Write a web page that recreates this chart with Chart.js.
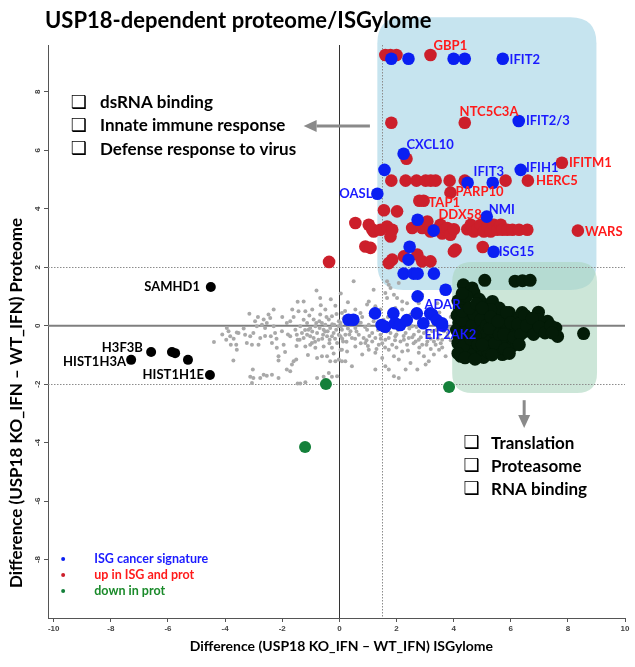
<!DOCTYPE html>
<html>
<head>
<meta charset="utf-8">
<script src="https://cdn.jsdelivr.net/npm/chart.js@4.4.0/dist/chart.umd.min.js"></script>
<style>
  html, body { margin: 0; padding: 0; background: #fff; }
  #wrap { width: 635px; height: 667px; }
</style>
</head>
<body>
<div id="wrap"><canvas id="chart" width="635" height="667"></canvas></div>
<script>
// ---- data (x = ISGylome difference, y = proteome difference) ----
const xTicks = [-10, -8, -6, -4, -2, 0, 2, 4, 6, 8, 10];
const yTicks = [-8, -6, -4, -2, 0, 2, 4, 6, 8];

const grayPoints = [
  [-4.39,-0.56],[-3.94,-0.08],[-3.88,-0.19],[-3.96,-0.48],[-3.82,-0.36],[-3.80,-0.65],[-3.59,-0.23],
  [-3.53,-0.25],[-3.61,-0.65],[-3.59,-0.82],[-3.71,-1.19],[-3.30,-0.31],[-3.24,-0.59],[-3.15,0.41],
  [-3.12,-0.36],[-3.06,-0.65],[-3.01,-0.25],[-2.95,0.15],[-2.89,-0.02],[-2.83,-0.65],[-2.77,-0.42],
  [-2.71,0.03],[-2.65,0.21],[-2.60,-0.08],[-2.54,0.09],[-2.48,0.38],[-2.42,0.26],[-2.40,-0.36],
  [-2.36,-0.59],[-2.30,-0.02],[-2.25,-0.25],[-2.19,-0.76],[-2.13,-1.05],[-2.13,-1.19],[-2.01,-0.19],
  [-1.95,-0.65],[-1.84,0.09],[-1.72,0.15],[-1.72,-0.36],[-1.66,-1.33],[-1.60,-1.22],[-1.51,-1.16],
  [-1.46,0.82],[-1.43,0.49],[-1.37,-0.02],[-1.31,-0.25],[-1.25,-0.42],[-1.19,-0.71],[-1.13,0.09],
  [-1.08,-0.14],[-1.02,-0.36],[-0.96,-0.59],[-0.90,0.21],[-0.84,-0.02],[-0.78,-0.25],[-0.73,-0.48],
  [-0.67,0.38],[-0.61,0.09],[-0.55,-0.14],[-0.49,0.55],[-0.43,-0.36],[-0.37,0.21],[-0.32,-0.08],
  [-0.26,0.32],[-0.20,-0.25],[-0.14,0.68],[-0.08,-0.59],[-0.02,0.15],[0.04,-0.36],[0.09,0.43],
  [-0.78,-1.11],[-0.61,-1.05],[-0.43,-1.05],[-0.32,-1.22],[-0.14,-1.22],[-0.02,-1.16],[0.09,-1.22],
  [-3.03,-1.50],[-3.12,-1.75],[-3.06,-1.96],[-3.01,-1.79],[-2.77,-1.79],[-2.65,-1.68],[-2.54,-1.71],
  [-2.36,-1.68],[-2.13,-1.79],[-1.84,-1.50],[-1.72,-1.56],[-1.46,-1.98],[-1.37,-1.98],[-1.19,-1.94],
  [-0.78,-1.79],[-0.55,-1.75],[-0.37,-1.62],[-0.26,-1.75],[-0.08,-1.73],[-1.25,0.83],[-0.67,0.95],
  [-1.19,0.49],[-1.54,-0.14],[-1.49,-0.31],[-1.39,-0.48],[-1.13,-0.31],[-1.02,-0.08],[-0.90,-0.42],
  [-0.81,0.09],[-0.69,-0.08],[-0.57,-0.31],[-0.49,0.03],[-0.41,-0.19],[-0.34,-0.48],[-0.26,-0.36],
  [-0.18,0.03],[-0.11,-0.14],[-0.02,-0.31],[0.06,-0.02],[0.13,-0.54],[-1.46,-0.48],[-1.02,-0.65],
  [-0.55,-0.71],[-0.26,-0.76],[0.04,-0.82],[-0.84,-0.76],
  [0.50,1.52],[1.20,1.23],[1.67,1.52],[1.73,1.40],[1.79,1.29],[1.91,1.06],[2.02,0.95],[1.67,0.95],
  [2.20,0.83],[2.37,0.77],[1.03,0.83],[0.97,0.72],[0.56,0.55],[0.74,0.43],[1.26,0.66],[1.44,0.55],
  [1.96,0.60],[2.20,0.55],[2.49,0.38],[1.61,1.12],[2.08,1.46],[2.90,1.06],[2.78,0.77],[3.43,0.77],
  [3.60,1.12],[0.09,-0.82],[0.27,-0.88],[0.56,-0.71],[0.80,-0.99],[1.03,-0.82],[1.26,-0.93],
  [1.50,-1.11],[1.73,-0.82],[1.91,-1.05],[2.08,-1.16],[2.20,-0.88],[2.32,-1.50],[2.49,-1.28],
  [2.78,-0.93],[2.96,-1.05],[3.13,-1.22],[3.31,-0.99],[3.49,-0.82],[3.72,-1.05],[1.61,-1.39],
  [1.73,-1.50],[1.91,-1.73],[2.08,-1.79],[1.26,-1.50],[0.44,-1.39],[0.21,-1.22],[3.02,-1.33],
  [2.73,-1.50],[-0.02,-0.02],[0.09,-0.14],[0.21,-0.31],[0.39,-0.19],[0.56,-0.08],[0.68,-0.31],
  [0.85,-0.42],[0.97,-0.14],[1.15,-0.25],[1.26,-0.42],[1.44,-0.31],[1.61,-0.48],[1.79,-0.25],
  [1.96,-0.36],[2.14,-0.54],[2.32,-0.25],[2.43,-0.42],[2.61,-0.31],[2.78,-0.48],[2.96,-0.25],
  [3.13,-0.36],[3.31,-0.54],[3.49,-0.31],[3.60,-0.48],[3.78,-0.36],[0.91,-0.59],[1.38,-0.65],
  [1.85,-0.65],[2.37,-0.65],[2.90,-0.65],[3.37,-0.65],[2.67,-0.54],[3.08,-0.54],[0.04,0.09],
  [0.33,0.03],[0.68,0.09],[1.03,0.03],[1.38,0.03],[1.73,-0.02],[2.08,0.03],[2.55,-0.02],[3.02,-0.02],
  [3.49,-0.02],[3.84,-0.08],[0.44,-0.42],[1.15,-0.54],[1.73,-0.42],[2.26,-0.48],[2.78,-0.19],
  [3.25,-0.19],[3.66,-0.19],
  [0.15,0.25],[0.3,-0.1],[0.45,0.15],[0.6,-0.2],[0.75,0.1],[0.9,-0.05],[1.05,-0.35],[1.2,0.15],
  [1.35,-0.15],[1.5,-0.6],[1.55,0.2],[1.65,-0.2],[1.85,0.1],[1.95,-0.5],[2.05,-0.15],[2.2,0.1],
  [2.25,-0.35],[2.45,-0.1],[2.5,0.15],[2.6,-0.6],[2.7,-0.05],[2.85,-0.4],[2.95,0.2],[3.05,-0.2],
  [3.2,-0.45],[3.3,0.1],[3.4,-0.15],[3.55,-0.6],[3.7,0.05],[3.8,-0.25],[3.9,-0.5],[0.25,-0.55],
  [0.55,-0.45],[0.75,-0.6],[1.0,-0.7],[1.3,-0.8],[1.6,-0.75],[2.0,-0.75],[2.4,-0.85],[2.8,-0.75],
  [3.2,-0.8],[3.6,-0.75],[0.2,0.5],[0.8,0.3],[1.1,0.35],[1.7,0.3],[2.3,0.3],[2.7,0.25],[3.1,0.3],
  [3.5,0.45],[3.9,0.3],[0.35,-0.3],[0.95,-0.5],[1.45,-0.45],[2.0,-0.3],[2.55,-0.4],[3.05,-0.65],
  [3.45,-0.45],[3.95,-0.1],[0.1,-0.45],[0.6,0.3],
  [-1.8,-0.3],[-1.6,0.3],[-1.5,-0.7],[-1.25,0.2],[-1.2,-0.15],[-1.05,0.35],[-0.95,-0.2],[-0.85,-0.55],
  [-0.7,0.15],[-0.6,-0.45],[-0.5,-0.2],[-0.45,0.3],[-0.35,-0.6],[-0.25,0.05],[-0.15,-0.45],[-0.1,0.4],
  [-2.0,0.3],[-2.2,-0.45],[-2.6,-0.35],[-2.85,0.3],[-3.35,-0.1],[-3.7,-0.45],[-4.1,-0.3],[-1.9,-0.9],
  [-1.1,-1.0],[-0.2,-0.95],[-0.65,0.7],[-0.95,0.55],[-1.65,0.55],[-2.3,0.55],[-0.3,0.9],[0.05,1.1],
  [0.3,0.8],[-0.8,1.2]
];

const redPoints = [
  [1.61,9.26],[1.79,9.26],[2.0,9.26],[3.19,9.26],
  [1.82,6.94],[4.39,6.94],
  [2.35,5.71],[7.79,5.57],
  [1.82,4.96],[2.32,4.96],[2.7,4.96],[3.02,4.96],[3.2,4.96],[3.37,4.96],[3.86,4.96],[4.39,4.96],
  [5.82,4.96],[6.6,4.96],
  [3.89,4.55],[2.8,4.27],[2.95,4.27],[1.56,3.95],[2.02,3.91],
  [0.56,3.51],[1.03,3.45],[1.2,3.22],[1.15,3.3],[1.44,3.28],[1.67,3.39],[1.85,3.28],[1.79,3.05],
  [2.55,3.34],[2.9,3.34],[3.08,3.56],[3.19,3.22],[3.43,3.3],[3.54,3.45],[3.6,3.15],[3.72,3.3],
  [3.78,3.34],[3.89,3.11],[4.01,3.3],[4.48,3.3],[4.6,3.45],[4.71,3.22],[4.83,3.3],[4.95,3.45],
  [5.06,3.22],[5.18,3.4],[5.3,3.22],[5.41,3.45],[5.53,3.28],[5.65,3.45],[5.71,3.28],[5.88,3.28],
  [6.06,3.28],[6.29,3.28],[6.58,3.28],
  [8.35,3.25],
  [0.91,2.71],[1.09,2.66],[4.07,2.6],[5.02,2.69],
  [1.85,2.26],[1.73,2.14],[2.26,2.37],[2.73,2.43],[2.9,2.2],[3.19,2.2],[4.01,2.54],
  [-0.36,2.18]
];

const bluePoints = [
  [1.82,9.13],[2.42,9.13],[4.0,9.13],[4.39,9.13],[5.72,9.13],
  [6.28,7.0],
  [2.25,5.88],[1.58,5.33],[6.35,5.33],[4.49,4.89],[5.37,4.89],
  [1.33,4.51],[2.74,3.62],[5.16,3.73],[3.3,3.25],
  [2.46,2.7],[2.42,2.26],[5.4,2.53],
  [2.25,1.78],[2.6,1.78],[2.74,1.78],[3.31,1.78],
  [3.72,1.23],[2.74,1.0],
  [1.25,0.42],[1.89,0.42],[2.71,0.42],[3.18,0.42],[3.25,0.38],
  [0.32,0.2],[0.49,0.2],
  [1.48,0.02],[1.6,-0.04],[1.95,0.08],[2.13,0.02],[2.36,0.19],[2.94,0.08],[3.41,0.19],[3.59,0.08],
  [3.6,0.0]
];

const greenPoints = [[-0.47,-2.0],[-1.2,-4.15],[3.84,-2.1]];

const histonePoints = [
  [-7.29,-1.17],[-6.59,-0.9],[-5.86,-0.9],[-5.75,-0.94],[-5.3,-1.17],[-4.53,-1.69],[-4.5,1.32]
];

const clusterPoints = [
  [4.34,1.4],[4.65,1.29],[4.71,1.14],[5.09,1.55],[6.15,1.52],[6.41,1.54],[6.68,1.55],[5.03,0.75],
  [5.36,0.83],[6.97,0.46],[8.55,-0.27],[7.58,-0.08],[7.64,-0.37],[7.29,0.15],
  [4.15,0.85],[4.2,0.6],[4.12,0.35],[4.18,0.1],[4.1,-0.15],[4.2,-0.4],[4.15,-0.6],[4.25,-0.8],
  [4.4,0.7],[4.5,0.45],[4.6,0.2],[4.45,0.0],[4.55,-0.25],[4.4,-0.5],[4.6,-0.7],[4.48,-0.82],
  [4.8,0.55],[4.75,0.3],[4.85,0.05],[4.7,-0.15],[4.9,-0.35],[4.8,-0.55],[4.95,-0.99],[5.05,-1.09],
  [4.9,-0.8],[5.1,0.4],[5.2,0.15],[5.05,-0.05],[5.25,-0.3],[5.15,-0.5],[5.3,-0.7],
  [5.5,0.35],[5.45,0.1],[5.6,-0.1],[5.5,-0.4],[5.65,-0.6],[5.71,-0.99],[5.88,-0.58],
  [5.8,0.25],[5.9,0.0],[6.0,-0.2],[5.95,0.45],[6.1,0.1],[6.2,-0.15],[6.3,0.3],[6.4,0.05],[6.5,-0.2],
  [6.6,0.2],[6.7,-0.05],[6.85,0.1],[6.9,-0.2],[7.1,-0.1],[7.0,0.2],[6.2,-0.45],[6.05,-0.7],
  [4.3,0.2],[4.35,-0.25],[4.65,0.0],[4.7,0.4],[4.95,0.2],[5.0,-0.2],[5.35,0.0],[5.4,-0.2],[5.7,0.15],
  [4.25,-1.05],[4.6,-1.0],[5.2,-0.9],[5.5,-0.8],[4.45,1.0],[4.3,1.1],[4.9,0.9],[5.6,0.6],[6.4,0.45],
  [5.3,0.55],
  [4.3,0.5],[4.35,-0.7],[4.55,0.6],[4.6,-0.45],[4.75,-0.35],[4.8,0.75],[4.85,-0.65],[5.0,0.6],
  [5.0,-0.65],[5.15,0.0],[5.25,-0.1],[5.3,0.3],[5.45,-0.6],[5.55,0.15],[5.6,-0.3],[5.75,-0.3],
  [5.8,-0.8],[5.85,0.45],[6.0,0.1],[6.1,-0.4],[6.25,0.05],[6.35,-0.3],[6.5,0.35],[6.55,0.0],
  [6.75,0.25],[6.8,-0.3],[7.0,-0.05],[7.2,-0.25],[7.4,0.0],[7.45,-0.25],[4.15,-0.95],[4.4,-1.1],
  [4.75,-1.15],[5.35,-1.0],[5.95,-0.95],[6.3,-0.65]
];

// gene labels: text, anchor x, anchor y, group, alignment
const geneLabels = [
  ['GBP1', 3.3, 9.57, 'red', 'left'],
  ['IFIT2', 5.96, 9.09, 'blue', 'left'],
  ['NTC5C3A', 4.21, 7.32, 'red', 'left'],
  ['IFIT2/3', 6.53, 7.0, 'blue', 'left'],
  ['CXCL10', 2.35, 6.19, 'blue', 'left'],
  ['IFIT3', 4.7, 5.26, 'blue', 'left'],
  ['IFIH1', 6.53, 5.4, 'blue', 'left'],
  ['IFITM1', 8.04, 5.57, 'red', 'left'],
  ['HERC5', 6.88, 4.96, 'red', 'left'],
  ['PARP10', 4.07, 4.58, 'red', 'left'],
  ['OASL', 1.16, 4.51, 'blue', 'right'],
  ['TAP1', 3.12, 4.21, 'red', 'left'],
  ['DDX58', 3.47, 3.79, 'red', 'left'],
  ['NMI', 5.23, 3.97, 'blue', 'left'],
  ['WARS', 8.6, 3.21, 'red', 'left'],
  ['ISG15', 5.58, 2.53, 'blue', 'left'],
  ['ADAR', 2.98, 0.72, 'blue', 'left'],
  ['EIF2AK2', 2.98, -0.31, 'blue', 'left'],
  ['SAMHD1', -4.88, 1.33, 'black', 'right'],
  ['H3F3B', -6.88, -0.75, 'black', 'right'],
  ['HIST1H3A', -7.47, -1.23, 'black', 'right'],
  ['HIST1H1E', -4.74, -1.68, 'black', 'right']
];

const upTerms = ['dsRNA binding', 'Innate immune response', 'Defense response to virus'];
const downTerms = ['Translation', 'Proteasome', 'RNA binding'];
const legendItems = [
  ['ISG cancer signature', 'blue'],
  ['up in ISG and prot', 'red'],
  ['down in prot', 'green']
];

// ---- styling ----
const colors = {
  red: '#cc1f2b', blue: '#0a1ff2', green: '#14803a', black: '#000000',
  cluster: '#041c08', gray: '#a9a9a9'
};
const textColors = { red: '#ff1a1a', blue: '#1a1aff', black: '#000000', green: '#1a8a2a' };
const FONT = 'Lato, "Open Sans", sans-serif';

const blueBox = { x0: 1.33, x1: 9.0, y0: 1.22, y1: 10.55 };
const greenBox = { x0: 3.95, x1: 9.02, y0: -2.3, y1: 2.18 };

function toXY(arr) {
  return arr.map(p => ({ x: p[0], y: p[1] }));
}

function roundRect(ctx, x, y, w, h, r) {
  ctx.beginPath();
  ctx.moveTo(x + r, y);
  ctx.lineTo(x + w - r, y);
  ctx.quadraticCurveTo(x + w, y, x + w, y + r);
  ctx.lineTo(x + w, y + h - r);
  ctx.quadraticCurveTo(x + w, y + h, x + w - r, y + h);
  ctx.lineTo(x + r, y + h);
  ctx.quadraticCurveTo(x, y + h, x, y + h - r);
  ctx.lineTo(x, y + r);
  ctx.quadraticCurveTo(x, y, x + r, y);
  ctx.closePath();
}

function drawArrow(ctx, x1, y1, x2, y2) {
  const ang = Math.atan2(y2 - y1, x2 - x1);
  const head = 13;
  ctx.strokeStyle = '#8a8a8a';
  ctx.fillStyle = '#8a8a8a';
  ctx.lineWidth = 3;
  ctx.beginPath();
  ctx.moveTo(x1, y1);
  ctx.lineTo(x2 - Math.cos(ang) * head, y2 - Math.sin(ang) * head);
  ctx.stroke();
  ctx.beginPath();
  ctx.moveTo(x2, y2);
  ctx.lineTo(x2 - Math.cos(ang) * head - Math.sin(ang) * 6, y2 - Math.sin(ang) * head + Math.cos(ang) * 6);
  ctx.lineTo(x2 - Math.cos(ang) * head + Math.sin(ang) * 6, y2 - Math.sin(ang) * head - Math.cos(ang) * 6);
  ctx.closePath();
  ctx.fill();
}

const decorPlugin = {
  id: 'decor',
  beforeDatasetsDraw(chart) {
    const { ctx, chartArea: a, scales: { x, y } } = chart;
    ctx.save();
    // shaded regions
    let bx = x.getPixelForValue(blueBox.x0), by = y.getPixelForValue(blueBox.y1);
    roundRect(ctx, bx, by, x.getPixelForValue(blueBox.x1) - bx, y.getPixelForValue(blueBox.y0) - by, 26);
    ctx.fillStyle = 'rgb(198,228,239)';
    ctx.fill();
    bx = x.getPixelForValue(greenBox.x0); by = y.getPixelForValue(greenBox.y1);
    roundRect(ctx, bx, by, x.getPixelForValue(greenBox.x1) - bx, y.getPixelForValue(greenBox.y0) - by, 20);
    ctx.fillStyle = 'rgba(170,214,190,0.6)';
    ctx.fill();

    // dotted thresholds
    ctx.strokeStyle = '#8c8c8c';
    ctx.lineWidth = 1;
    ctx.setLineDash([1.5, 1.5]);
    [2, -2].forEach(v => {
      const py = Math.round(y.getPixelForValue(v)) + 0.5;
      ctx.beginPath(); ctx.moveTo(a.left, py); ctx.lineTo(a.right, py); ctx.stroke();
    });
    const vx = Math.round(x.getPixelForValue(1.5)) + 0.5;
    ctx.beginPath(); ctx.moveTo(vx, a.top); ctx.lineTo(vx, a.bottom); ctx.stroke();
    ctx.setLineDash([]);

    // zero lines
    const zy = y.getPixelForValue(0);
    ctx.strokeStyle = '#7f7f7f';
    ctx.lineWidth = 2;
    ctx.beginPath(); ctx.moveTo(a.left, zy); ctx.lineTo(a.right, zy); ctx.stroke();
    const zx = Math.round(x.getPixelForValue(0)) + 0.5;
    ctx.strokeStyle = '#333333';
    ctx.lineWidth = 1;
    ctx.beginPath(); ctx.moveTo(zx, a.top); ctx.lineTo(zx, a.bottom); ctx.stroke();
    ctx.restore();
  },
  afterDraw(chart) {
    const { ctx, chartArea: a, scales: { x, y } } = chart;
    ctx.save();

    // title
    ctx.fillStyle = '#000';
    ctx.font = 'bold 22px ' + FONT;
    ctx.textAlign = 'left';
    ctx.textBaseline = 'middle';
    ctx.fillText('USP18-dependent proteome/ISGylome', 45, 21);

    // y tick labels (rotated)
    ctx.font = 'bold 8px "Liberation Sans", Arial, sans-serif';
    ctx.fillStyle = '#444';
    yTicks.forEach(v => {
      ctx.save();
      ctx.translate(a.left - 10, y.getPixelForValue(v));
      ctx.rotate(-Math.PI / 2);
      ctx.textAlign = 'center';
      ctx.textBaseline = 'middle';
      ctx.fillText(String(v), 0, 0);
      ctx.restore();
    });

    // axis titles
    ctx.fillStyle = '#000';
    ctx.font = 'bold 14px ' + FONT;
    ctx.textAlign = 'center';
    ctx.textBaseline = 'middle';
    ctx.fillText('Difference (USP18 KO_IFN \u2013 WT_IFN) ISGylome', x.getPixelForValue(0) + 2, 646);
    ctx.save();
    ctx.translate(17, 403);
    ctx.rotate(-Math.PI / 2);
    ctx.font = 'bold 17px ' + FONT;
    ctx.fillText('Difference (USP18 KO_IFN \u2013 WT_IFN) Proteome', 0, 0);
    ctx.restore();

    // gene labels
    ctx.font = 'bold 13px ' + FONT;
    ctx.textBaseline = 'middle';
    geneLabels.forEach(([txt, lx, ly, grp, align]) => {
      ctx.fillStyle = textColors[grp];
      ctx.textAlign = align;
      ctx.fillText(txt, x.getPixelForValue(lx), y.getPixelForValue(ly));
    });

    // arrows
    drawArrow(ctx, x.getPixelForValue(1.07), y.getPixelForValue(6.83), x.getPixelForValue(-1.25), y.getPixelForValue(6.83));
    drawArrow(ctx, x.getPixelForValue(6.47), y.getPixelForValue(-2.55), x.getPixelForValue(6.47), y.getPixelForValue(-3.5));

    // GO term lists
    ctx.fillStyle = '#000';
    ctx.textAlign = 'left';
    const termRows = [
      { terms: upTerms, box: -9.4, txt: -8.38, top: 7.62 },
      { terms: downTerms, box: 4.35, txt: 5.31, top: -4.02 }
    ];
    termRows.forEach(row => {
      row.terms.forEach((t, i) => {
        const py = y.getPixelForValue(row.top - i * 0.79);
        ctx.font = '18px "DejaVu Sans", sans-serif';
        ctx.fillText('\u2751', x.getPixelForValue(row.box), py);
        ctx.font = 'bold 17px ' + FONT;
        ctx.fillText(t, x.getPixelForValue(row.txt), py);
      });
    });

    // legend
    ctx.font = 'bold 12.5px ' + FONT;
    legendItems.forEach(([txt, grp], i) => {
      const py = y.getPixelForValue(-7.98 - i * 0.55);
      ctx.fillStyle = colors[grp];
      ctx.beginPath();
      ctx.arc(x.getPixelForValue(-9.67), py, 2, 0, Math.PI * 2);
      ctx.fill();
      ctx.fillStyle = textColors[grp];
      ctx.fillText(txt, x.getPixelForValue(-8.58), py);
    });
    ctx.restore();
  }
};

new Chart(document.getElementById('chart'), {
  type: 'scatter',
  data: {
    datasets: [
      { label: 'ISG cancer signature', data: toXY(bluePoints), backgroundColor: colors.blue, pointRadius: 6.3, borderWidth: 0, order: 1 },
      { label: 'up in ISG and prot', data: toXY(redPoints), backgroundColor: colors.red, pointRadius: 6.3, borderWidth: 0, order: 2 },
      { label: 'histones', data: toXY(histonePoints), backgroundColor: colors.black, pointRadius: 5, borderWidth: 0, order: 3 },
      { label: 'down in prot', data: toXY(greenPoints), backgroundColor: colors.green, pointRadius: 6, borderWidth: 0, order: 4 },
      { label: 'cluster', data: toXY(clusterPoints), backgroundColor: colors.cluster, pointRadius: 6.5, borderWidth: 0, order: 5 },
      { label: 'other', data: toXY(grayPoints), backgroundColor: colors.gray, pointRadius: 2, borderWidth: 0, order: 6 }
    ]
  },
  options: {
    responsive: false,
    animation: false,
    layout: { padding: { top: 45, right: 10, left: 0, bottom: 0 } },
    plugins: { legend: { display: false }, tooltip: { enabled: false } },
    scales: {
      x: {
        type: 'linear',
        min: -10.2,
        max: 10,
        afterBuildTicks: s => { s.ticks = xTicks.map(v => ({ value: v })); },
        afterFit: s => { s.height = 49; },
        grid: { drawOnChartArea: false, drawTicks: true, tickLength: 4, color: '#555' },
        border: { display: true, color: '#555', width: 1 },
        ticks: { font: { size: 8, weight: 'bold', family: '"Liberation Sans", Arial, sans-serif' }, color: '#444', padding: 2, maxRotation: 0 }
      },
      y: {
        type: 'linear',
        min: -10,
        max: 9.6,
        afterBuildTicks: s => { s.ticks = yTicks.map(v => ({ value: v })); },
        afterFit: s => { s.width = 48; },
        grid: { drawOnChartArea: false, drawTicks: true, tickLength: 4, color: '#555' },
        border: { display: true, color: '#555', width: 1 },
        ticks: { display: false }
      }
    }
  },
  plugins: [decorPlugin]
});
</script>
</body>
</html>
